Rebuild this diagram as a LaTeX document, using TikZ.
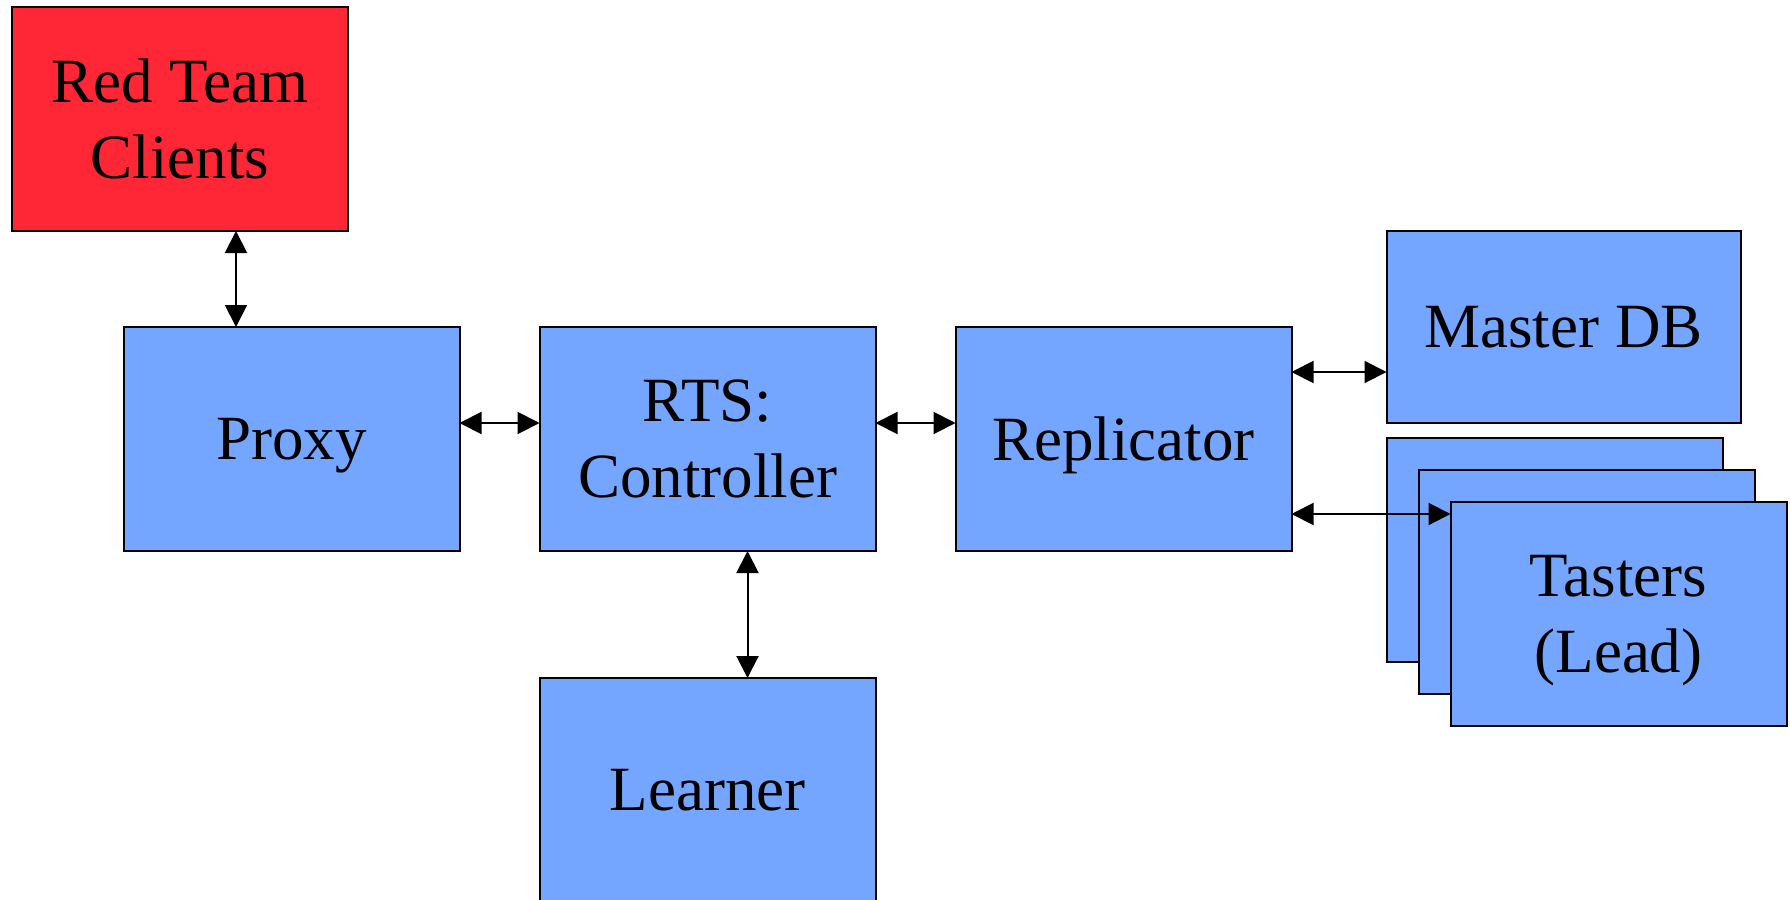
\documentclass[tikz,border=0pt]{standalone}
\usepackage{fontspec}
\setmainfont{Liberation Serif}
\usetikzlibrary{arrows.meta, positioning}

\definecolor{boxblue}{RGB}{116,165,255}
\definecolor{teamred}{RGB}{255,38,54}

\begin{document}
\begin{tikzpicture}[
    x=0.5pt, y=-0.5pt,
    component/.style={rectangle, draw, line width=1pt, fill=boxblue, minimum width=168pt, minimum height=112pt,
        inner sep=0pt, outer sep=0pt, text depth=0pt, align=center, font=\fontsize{31.5}{38}\selectfont},
    dbbox/.style={component, minimum width=177pt, minimum height=96pt},
    link/.style={draw, {Triangle[length=11pt,width=11pt]}-{Triangle[length=11pt,width=11pt]}, line width=1pt}
]
\useasboundingbox (0,0) rectangle (1790,900);

% Components
\node[component] (proxy) at (291.5,439) {Proxy};
\node[component, fill=teamred, above=48pt of proxy, xshift=-55.75pt] (clients) {Red Team\\Clients};
\node[component, right=40pt of proxy] (controller) {RTS:\\Controller};
\node[component, right=40pt of controller] (replicator) {Replicator};
\node[component, below=63.5pt of controller] (learner) {Learner};
\node[dbbox, right=47.5pt of replicator, yshift=56pt] (masterdb) {Master DB};
\node[component, right=47.5pt of replicator, yshift=-55.5pt] (taster3) {};
\node[component, xshift=16pt, yshift=-16pt] (taster2) at (taster3) {};
\node[component, xshift=16pt, yshift=-16pt] (taster1) at (taster2) {Tasters\\(Lead)};

% Connectors
\draw[link] ([xshift=28pt]clients.south) -- ([xshift=28pt]clients.south |- proxy.north);
\draw[link] ([yshift=8pt]proxy.east) -- ([yshift=8pt]proxy.east -| controller.west);
\draw[link] ([yshift=8pt]controller.east) -- ([yshift=8pt]controller.east -| replicator.west);
\draw[link] ([xshift=20pt]controller.south) -- ([xshift=20pt]controller.south |- learner.north);
\draw[link] ([yshift=-22.5pt]replicator.north east) -- ([yshift=-22.5pt]replicator.north east -| masterdb.west);
\draw[link] ([yshift=18.5pt]replicator.south east) -- ([yshift=18.5pt]replicator.south east -| taster1.west);

\end{tikzpicture}
\end{document}
